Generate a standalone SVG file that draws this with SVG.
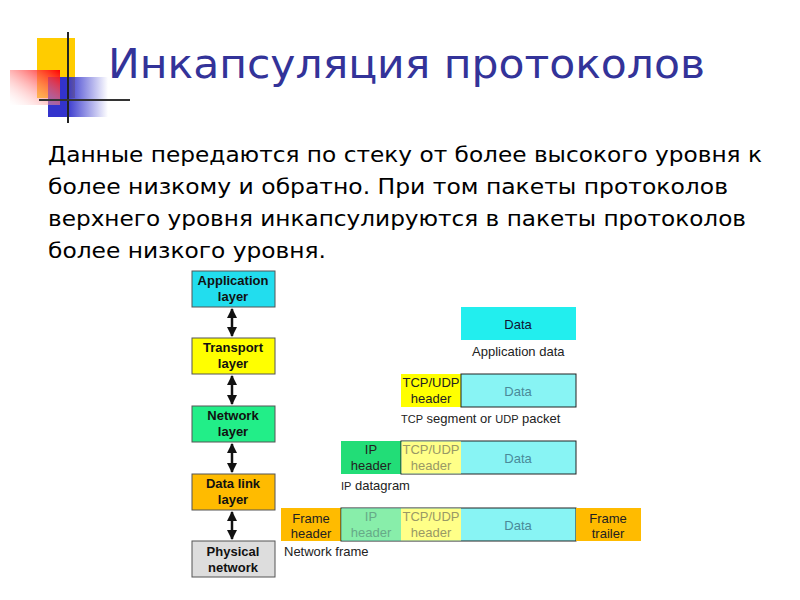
<svg xmlns="http://www.w3.org/2000/svg" width="800" height="600" viewBox="0 0 800 600">
<defs>
<linearGradient id="gr" x1="1" y1="0" x2="0" y2="1"><stop offset="0" stop-color="#ff0000"/><stop offset="1" stop-color="#ffffff" stop-opacity="0.2"/></linearGradient>
<linearGradient id="gb" x1="0" y1="0" x2="1" y2="0"><stop offset="0.3" stop-color="#3333cc"/><stop offset="1" stop-color="#3333cc" stop-opacity="0"/></linearGradient>
<marker id="ah" viewBox="0 0 10 10" refX="9" refY="5" markerWidth="4" markerHeight="4" orient="auto-start-reverse"><path d="M0,0L10,5L0,10Z" fill="#111"/></marker>
<style>
.t{font-family:"DejaVu Sans",Verdana,sans-serif;font-size:21px;fill:#000}
.b{font-family:"Liberation Sans",Arial,sans-serif;font-size:13px;text-anchor:middle}
.bb{font-weight:bold;fill:#111}
.l{font-family:"Liberation Sans",Arial,sans-serif;font-size:13px;fill:#222}
.s{stroke:#555;stroke-width:1}
.c{stroke:#111;stroke-width:2.5;marker-start:url(#ah);marker-end:url(#ah)}
</style>
</defs>
<rect width="800" height="600" fill="#fff"/>
<g id="logo">
<rect x="37" y="38" width="38" height="60" fill="#ffcc00"/>
<rect x="48" y="77" width="60" height="40" fill="url(#gb)"/>
<rect x="10" y="70" width="50" height="35" fill="url(#gr)"/>
<line x1="68" y1="32" x2="68" y2="123" stroke="#222" stroke-width="2"/>
<line x1="39" y1="100" x2="130" y2="100" stroke="#333" stroke-width="2"/>
</g>
<text x="108" y="78" font-family="Verdana,'DejaVu Sans',sans-serif" font-size="41" fill="#333399" textLength="597" lengthAdjust="spacingAndGlyphs">Инкапсуляция протоколов</text>
<g class="t">
<text x="48" y="162" textLength="714" lengthAdjust="spacingAndGlyphs">Данные передаются по стеку от более высокого уровня к</text>
<text x="48" y="194" textLength="680" lengthAdjust="spacingAndGlyphs">более низкому и обратно. При том пакеты протоколов</text>
<text x="48" y="226" textLength="698" lengthAdjust="spacingAndGlyphs">верхнего уровня инкапсулируются в пакеты протоколов</text>
<text x="48" y="258" textLength="278" lengthAdjust="spacingAndGlyphs">более низкого уровня.</text>
</g>
<g id="connectors">
<line class="c" x1="232" y1="309" x2="232" y2="336"/>
<line class="c" x1="232" y1="376" x2="232" y2="404"/>
<line class="c" x1="232" y1="444" x2="232" y2="472"/>
<line class="c" x1="232" y1="512" x2="232" y2="539"/>
</g>
<g id="app"><rect class="s" x="192" y="271" width="83" height="36" fill="#22ddee"/><text class="b bb" x="233" y="285">Application</text><text class="b bb" x="233" y="301">layer</text></g>
<g id="transport"><rect class="s" x="192" y="338" width="83" height="36" fill="#ffff00"/><text class="b bb" x="233" y="352">Transport</text><text class="b bb" x="233" y="368">layer</text></g>
<g id="network"><rect class="s" x="192" y="406" width="83" height="36" fill="#22ee88"/><text class="b bb" x="233" y="420">Network</text><text class="b bb" x="233" y="436">layer</text></g>
<g id="datalink"><rect class="s" x="192" y="474" width="83" height="36" fill="#ffbb00"/><text class="b bb" x="233" y="488">Data link</text><text class="b bb" x="233" y="504">layer</text></g>
<g id="physical"><rect class="s" x="192" y="541" width="83" height="36" fill="#dddddd"/><text class="b bb" x="233" y="556">Physical</text><text class="b bb" x="233" y="572">network</text></g>
<g id="row1">
<rect x="461" y="307" width="115" height="33" fill="#22eeee"/><text class="b" x="518" y="329" fill="#113">Data</text>
<text class="l" x="472" y="356">Application data</text>
</g>
<g id="row2">
<rect x="401" y="374" width="60" height="33" fill="#ffff00"/><text class="b" x="431" y="387" font-size="11" fill="#222">TCP/UDP</text><text class="b" x="431" y="403" fill="#222">header</text>
<rect x="461" y="374" width="115" height="33" fill="#88f4f4" stroke="#222" stroke-width="1"/><text class="b" x="518" y="396" fill="#4a8a99">Data</text>
<text class="l" x="401" y="423"><tspan font-size="11">TCP</tspan> segment or <tspan font-size="11">UDP</tspan> packet</text>
</g>
<g id="row3">
<rect x="341" y="441" width="60" height="33" fill="#22dd77"/><text class="b" x="371" y="454" font-size="11" fill="#222">IP</text><text class="b" x="371" y="470" fill="#222">header</text>
<rect x="401" y="441" width="175" height="33" fill="#88f4f4" stroke="#222" stroke-width="1"/>
<rect x="401.5" y="441.5" width="59.5" height="32" fill="#ffff88"/>
<text class="b" x="431" y="454" font-size="11" fill="#999966">TCP/UDP</text><text class="b" x="431" y="470" fill="#999966">header</text>
<text class="b" x="518" y="463" fill="#4a8a99">Data</text>
<text class="l" x="341" y="490"><tspan font-size="11">IP</tspan> datagram</text>
</g>
<g id="row4">
<rect x="281" y="508" width="60" height="33" fill="#ffbb00"/><text class="b" x="311" y="523" fill="#222">Frame</text><text class="b" x="311" y="538" fill="#222">header</text>
<rect x="341" y="508" width="235" height="33" fill="#88f4f4" stroke="#222" stroke-width="1"/>
<rect x="341.5" y="508.5" width="59.5" height="32" fill="#88eeaa"/>
<rect x="401" y="508.5" width="60" height="32" fill="#ffff88"/>
<text class="b" x="371" y="521" font-size="11" fill="#66aa88">IP</text><text class="b" x="371" y="537" fill="#66aa88">header</text>
<text class="b" x="431" y="521" font-size="11" fill="#999966">TCP/UDP</text><text class="b" x="431" y="537" fill="#999966">header</text>
<text class="b" x="518" y="530" fill="#4a8a99">Data</text>
<rect x="576" y="508" width="65" height="33" fill="#ffbb00"/><text class="b" x="608" y="523" fill="#222">Frame</text><text class="b" x="608" y="538" fill="#222">trailer</text>
<text class="l" x="284" y="556">Network frame</text>
</g>
</svg>
